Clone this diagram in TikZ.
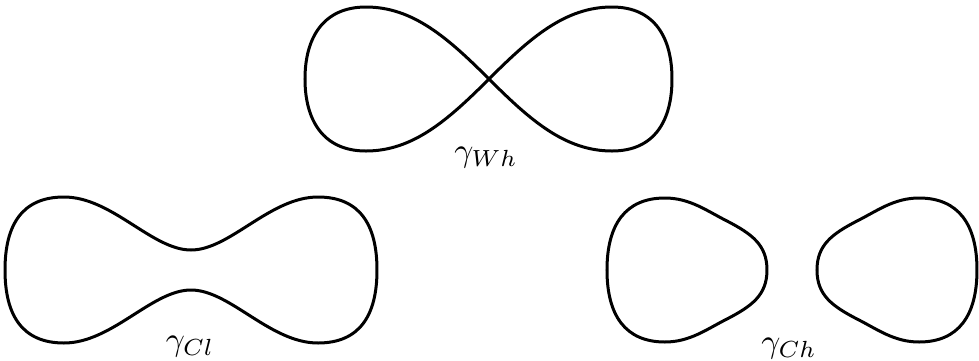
\documentclass[tikz,border=0pt]{standalone}
\usepackage{amsmath}
\usepackage{tikz}

\begin{document}
\begin{tikzpicture}[x=0.3pt,y=-0.3pt,curve/.style={line width=0.9pt,line join=round},lbl/.style={inner sep=1pt}]
\useasboundingbox (0,0) rectangle (979,360);
% figure eight
\coordinate (cross) at (489,79);
\draw[curve] (cross) .. controls (530,38) and (565,7) .. (612,7)
  .. controls (655,7) and (672,38) .. (672,79)
  .. controls (672,120) and (655,151) .. (612,151)
  .. controls (565,151) and (530,120) .. (cross)
  .. controls (448,38) and (413,7) .. (366,7)
  .. controls (323,7) and (305,38) .. (305,79)
  .. controls (305,120) and (323,151) .. (366,151)
  .. controls (413,151) and (448,120) .. (cross);
\node[lbl] (wh) at (486,158) {$\gamma_{Wh}$};
% dumbbell
\draw[curve] (191,250) .. controls (230,250) and (270,197) .. (318,197)
  .. controls (360,197) and (377,225) .. (377,270)
  .. controls (377,315) and (360,343) .. (318,343)
  .. controls (270,343) and (230,290) .. (191,290)
  .. controls (152,290) and (112,343) .. (64,343)
  .. controls (22,343) and (5,315) .. (5,270)
  .. controls (5,225) and (22,197) .. (64,197)
  .. controls (112,197) and (152,250) .. (191,250) -- cycle;
\node[lbl] (cl) at (190,347) {$\gamma_{Cl}$};
% two ovals
\draw[curve] (767,270) .. controls (767,245) and (752,234) .. (727,221)
  .. controls (707,211) and (690,198) .. (665,198)
  .. controls (625,198) and (607,225) .. (607,270)
  .. controls (607,315) and (625,342) .. (665,342)
  .. controls (690,342) and (707,329) .. (727,319)
  .. controls (752,306) and (767,295) .. (767,270) -- cycle;
\draw[curve] (817,270) .. controls (817,245) and (832,234) .. (857,221)
  .. controls (877,211) and (894,198) .. (919,198)
  .. controls (959,198) and (977,225) .. (977,270)
  .. controls (977,315) and (959,342) .. (919,342)
  .. controls (894,342) and (877,329) .. (857,319)
  .. controls (832,306) and (817,295) .. (817,270) -- cycle;
\node[lbl] (ch) at (789,349) {$\gamma_{Ch}$};
\end{tikzpicture}
\end{document}
